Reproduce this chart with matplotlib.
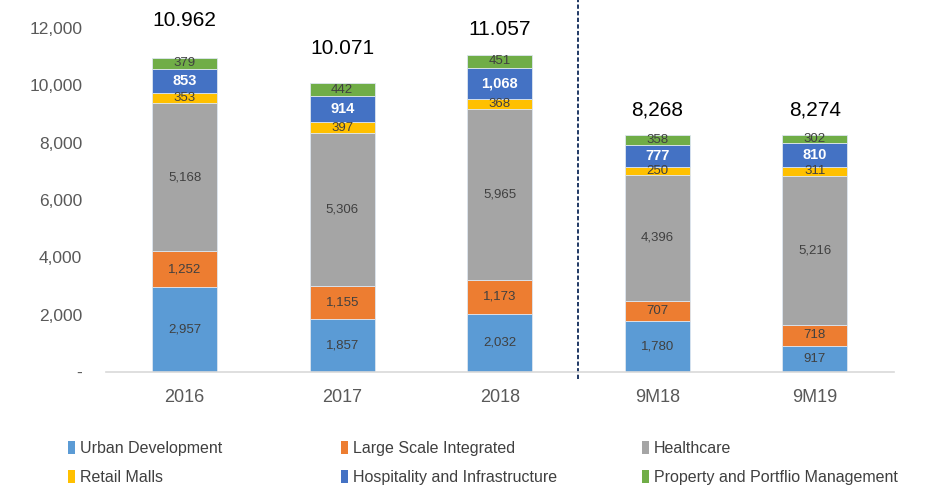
import numpy as np
import matplotlib.pyplot as plt
from matplotlib.patches import Patch

periods = ['2016', '2017', '2018', '9M18', '9M19']
urban = [2957, 1857, 2032, 1780, 917]
large_scale = [1252, 1155, 1173, 707, 718]
healthcare = [5168, 5306, 5965, 4396, 5216]
retail = [353, 397, 368, 250, 311]
hospitality = [853, 914, 1068, 777, 810]
property_mgmt = [379, 442, 451, 358, 302]
total_labels = ['10.962', '10.071', '11.057', '8,268', '8,274']

series = [
    ('Urban Development', urban, '#5B9BD5'),
    ('Large Scale Integrated', large_scale, '#ED7D31'),
    ('Healthcare', healthcare, '#A5A5A5'),
    ('Retail Malls', retail, '#FFC000'),
    ('Hospitality and Infrastructure', hospitality, '#4472C4'),
    ('Property and Portflio Management', property_mgmt, '#70AD47'),
]

plt.rcParams['font.family'] = ['Liberation Sans', 'DejaVu Sans']

fig = plt.figure(figsize=(9.32, 4.9), dpi=100)
ax = fig.add_axes([0.1137, 0.241, 0.845, 0.702])

x = np.arange(len(periods))
bottom = np.zeros(len(periods))
for name, vals, color in series:
    bars = ax.bar(x, vals, 0.41, bottom=bottom, color=color, label=name,
                  edgecolor='#DDE6F0', linewidth=0.6)
    if name.startswith('Hospitality'):
        ax.bar_label(bars, labels=['{:,}'.format(v) for v in vals],
                     label_type='center', color='white', fontsize=10.5,
                     fontweight='bold')
    else:
        ax.bar_label(bars, labels=['{:,}'.format(v) for v in vals],
                     label_type='center', color='#404040', fontsize=9.5)
    bottom += np.array(vals)

# totals above the bars (offsets in points)
offsets = [27, 25, 18, 18, 18]
for i, (t, lab) in enumerate(zip(bottom, total_labels)):
    ax.annotate(lab, (x[i], t), xytext=(0, offsets[i]), textcoords='offset points',
                ha='center', va='center', fontsize=15, color='black')

# separator between full years and 9M
ax.plot([2.5, 2.5], [-0.02, 1.09], transform=ax.get_xaxis_transform(),
        color='#1F3864', lw=1.4, ls=(0, (2.2, 1.2)), clip_on=False)

ax.set_xlim(-0.5, 4.5)
ax.set_ylim(0, 12000)
ax.set_yticks(np.arange(0, 12001, 2000))
ax.set_yticklabels(['-'] + ['{:,}'.format(v) for v in range(2000, 12001, 2000)])
ax.set_xticks(x)
ax.set_xticklabels(periods)
ax.tick_params(axis='y', length=0, pad=17, labelsize=12.5, labelcolor='#595959')
ax.tick_params(axis='x', length=0, pad=12, labelsize=13, labelcolor='#595959')
for s in ['top', 'right', 'left']:
    ax.spines[s].set_visible(False)
ax.spines['bottom'].set_color('#D9D9D9')
ax.spines['bottom'].set_linewidth(1.2)

# legend: three columns placed by hand
handles = [Patch(facecolor=c, label=n) for n, v, c in series]
col_x = [60, 333, 634]
for j in range(3):
    leg = fig.legend(handles=[handles[j], handles[j + 3]], loc='upper left',
                     bbox_to_anchor=(col_x[j] / 932, 1 - 433 / 490),
                     frameon=False, handlelength=0.45, handleheight=0.9,
                     handletextpad=0.3, labelspacing=0.85, borderpad=0,
                     prop={'family': 'Liberation Sans', 'size': 11.5})
    for t in leg.get_texts():
        t.set_color('#404040')

fig.savefig('out.png', dpi=100)
